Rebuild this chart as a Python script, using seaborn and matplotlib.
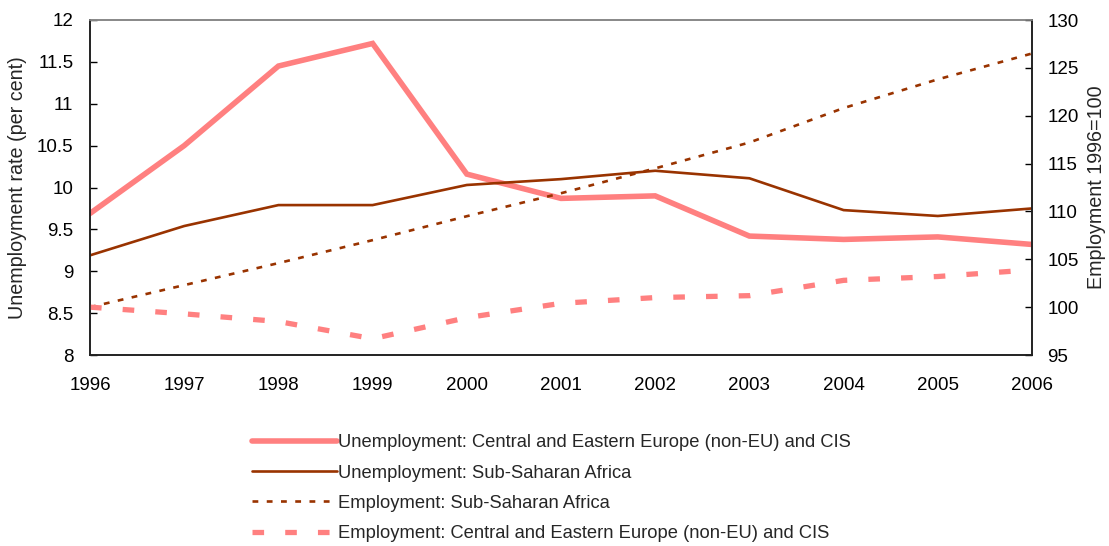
import matplotlib
matplotlib.use("Agg")
import matplotlib.pyplot as plt
import seaborn as sns
import numpy as np

years = [1996, 1997, 1998, 1999, 2000, 2001, 2002, 2003, 2004, 2005, 2006]
unemp_cee = [9.69, 10.50, 11.45, 11.72, 10.16, 9.87, 9.90, 9.42, 9.38, 9.41, 9.32]
unemp_ssa = [9.19, 9.54, 9.79, 9.79, 10.03, 10.10, 10.20, 10.11, 9.73, 9.66, 9.75]
emp_ssa = [100.0, 102.3, 104.6, 107.0, 109.5, 111.9, 114.5, 117.2, 120.8, 123.8, 126.5]
emp_cee = [100.0, 99.3, 98.5, 96.7, 98.9, 100.4, 101.0, 101.2, 102.8, 103.2, 103.9]

labels = [
    "Unemployment: Central and Eastern Europe (non-EU) and CIS",
    "Unemployment: Sub-Saharan Africa",
    "Employment: Sub-Saharan Africa",
    "Employment: Central and Eastern Europe (non-EU) and CIS",
]

sns.set_style("white")
plt.rcParams["font.family"] = ["Liberation Sans", "DejaVu Sans"]

PINK = "#FF8080"
BROWN = "#993300"

fig = plt.figure(figsize=(11.09, 5.46), dpi=100)
ax = fig.add_axes([90 / 1109, 1 - 355 / 546, (1032 - 90) / 1109, (355 - 20) / 546])
ax2 = ax.twinx()

sns.lineplot(x=years, y=unemp_cee, ax=ax, color=PINK, linewidth=4.0, legend=False)
sns.lineplot(x=years, y=unemp_ssa, ax=ax, color=BROWN, linewidth=1.9, legend=False)
sns.lineplot(x=years, y=emp_ssa, ax=ax2, color=BROWN, linewidth=1.9,
             linestyle=(0, (2.2, 3.2)), legend=False)
sns.lineplot(x=years, y=emp_cee, ax=ax2, color=PINK, linewidth=3.8,
             linestyle=(0, (2.2, 4.0)), legend=False)
for ln in ax.lines + ax2.lines:
    ln.set_dash_capstyle("butt")
    ln.set_solid_joinstyle("miter")

ax.set_xlim(1996, 2006)
ax.set_ylim(8, 12)
ax2.set_ylim(95, 130)
ax.set_xticks(years)
ax.set_xticklabels([str(y) for y in years])
ax.set_yticks(np.arange(8, 12.01, 0.5))
ax.set_yticklabels(["8", "8.5", "9", "9.5", "10", "10.5", "11", "11.5", "12"])
ax2.set_yticks(np.arange(95, 131, 5))

fs = 13.5
ax.tick_params(axis="y", direction="in", length=5, width=1, labelsize=fs, colors="black", pad=12)
ax.tick_params(axis="x", direction="in", length=5, width=1, labelsize=fs, colors="black", pad=16)
ax2.tick_params(axis="y", direction="in", length=5, width=1, labelsize=fs, colors="black", pad=11)

ax.set_ylabel("Unemployment rate (per cent)", fontsize=14.2)
ax2.set_ylabel("Employment 1996=100", fontsize=14.2)
ax.yaxis.set_label_coords((18 - 90) / 942, 0.5)
ax2.yaxis.set_label_coords((1097 - 90) / 942, 0.5)
ax2.yaxis.label.set_verticalalignment("center")
ax.yaxis.label.set_verticalalignment("center")
ax.set_xlabel("")

for a in (ax, ax2):
    for s in a.spines.values():
        s.set_linewidth(1.2)
        s.set_color("#222222")
    a.spines["top"].set_color("#888888")

handles = [ax.lines[0], ax.lines[1], ax2.lines[0], ax2.lines[1]]
fig.legend(handles, labels, loc="upper left", bbox_to_anchor=(245 / 1109, 1 - 427 / 546),
           frameon=False, fontsize=13.2, handlelength=4.6, handletextpad=0.1,
           labelspacing=0.72, borderaxespad=0)

fig.savefig("out.png", dpi=100)
